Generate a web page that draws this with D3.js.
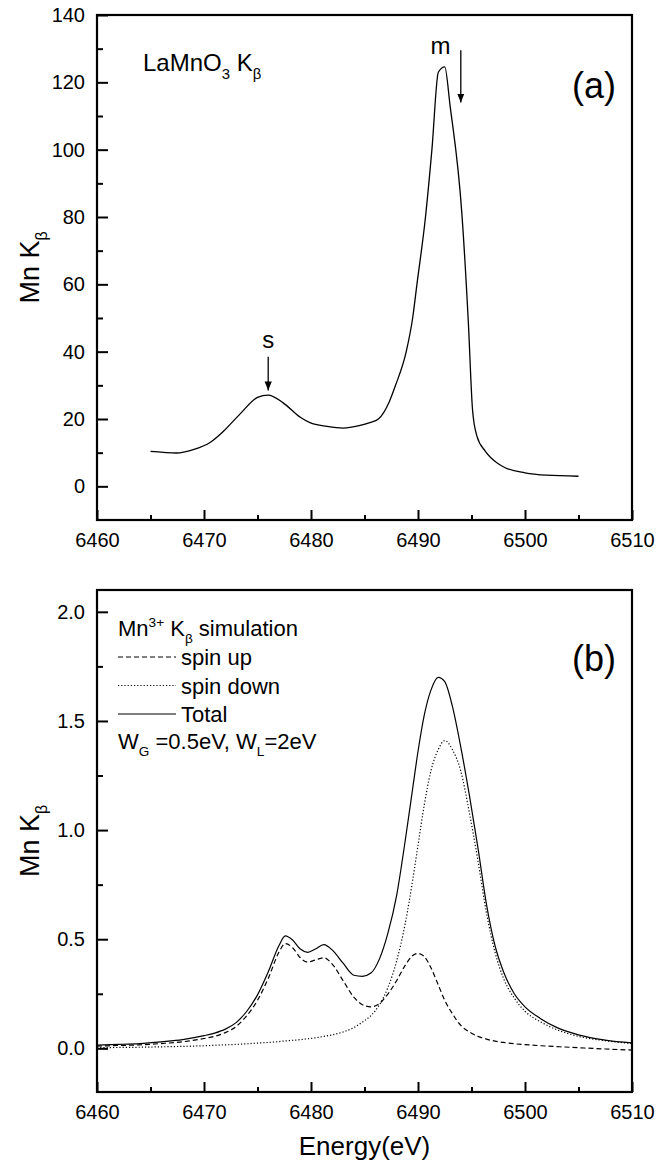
<!DOCTYPE html>
<html>
<head>
<meta charset="utf-8">
<script src="https://cdn.jsdelivr.net/npm/d3@7"></script>
<style>
  body { margin: 0; background: #fff; }
  svg { display: block; font-family: "Liberation Sans", Arial, sans-serif; }
</style>
</head>
<body>
<div id="chart"></div>
<script>
// ---- data ----
const energyTicks = [6460, 6470, 6480, 6490, 6500, 6510];
const energyMinor = [6465, 6475, 6485, 6495, 6505];
const yTicksA = [0, 20, 40, 60, 80, 100, 120, 140];
const yMinorA = [10, 30, 50, 70, 90, 110, 130];
const yTicksB = [0, 0.5, 1.0, 1.5, 2.0];
const yMinorB = [0.25, 0.75, 1.25, 1.75];

// (a) measured LaMnO3 K-beta
const energyA = [6465, 6466.2, 6467.4, 6469, 6470.6, 6471.8, 6473.4, 6475, 6476, 6477.4,
  6479, 6479.9, 6481.5, 6483, 6484.5, 6485.5, 6486.3, 6487.3, 6487.9, 6488.9,
  6489.5, 6489.9, 6490.7, 6491.3, 6491.9, 6492.5, 6493, 6494.1, 6494.7, 6495.1,
  6495.5, 6496.3, 6497.5, 6498.1, 6500, 6502, 6505];
const intensityA = [10.4, 10.1, 9.9, 10.9, 13.1, 16.3, 21.6, 26.4, 27.1, 24.8,
  20.5, 18.9, 17.8, 17.3, 18, 18.9, 20, 25, 30, 40,
  50, 60, 80, 100, 123, 124.6, 113, 81, 49, 22.6,
  15, 10.4, 6.7, 5.6, 4, 3.3, 3.0];

// (b) Mn3+ simulation
const energyB = [6460, 6462, 6464, 6466, 6468, 6470, 6471, 6472, 6473, 6474,
  6475, 6476, 6477, 6477.6, 6478.3, 6479, 6479.7, 6480.4, 6481.2, 6482,
  6483, 6484, 6484.8, 6485.6, 6486.4, 6487.2, 6488, 6488.8, 6489.5, 6490,
  6490.6, 6491.2, 6491.9, 6492.5, 6493.2, 6494, 6494.8, 6495.6, 6496.4, 6497.2,
  6498, 6499, 6500, 6501.5, 6503, 6505, 6507.5, 6510];
const spinUp = [0.010, 0.013, 0.016, 0.022, 0.030, 0.045, 0.055, 0.072, 0.10, 0.15,
  0.22, 0.32, 0.44, 0.48, 0.46, 0.415, 0.395, 0.405, 0.415, 0.385,
  0.31, 0.235, 0.20, 0.19, 0.205, 0.25, 0.31, 0.38, 0.425, 0.435,
  0.42, 0.37, 0.29, 0.22, 0.16, 0.105, 0.075, 0.055, 0.042, 0.033,
  0.027, 0.021, 0.017, 0.012, 0.008, 0.003, -0.003, -0.008];
const spinDown = [0.003, 0.004, 0.005, 0.007, 0.009, 0.012, 0.014, 0.016, 0.018, 0.021,
  0.024, 0.027, 0.031, 0.034, 0.037, 0.040, 0.044, 0.048, 0.055, 0.062,
  0.075, 0.095, 0.12, 0.15, 0.20, 0.28, 0.40, 0.57, 0.77, 0.93,
  1.12, 1.27, 1.37, 1.41, 1.37, 1.27, 1.08, 0.86, 0.62, 0.44,
  0.32, 0.23, 0.17, 0.12, 0.085, 0.055, 0.035, 0.022];
const total = [0.015, 0.018, 0.022, 0.03, 0.04, 0.058, 0.07, 0.088, 0.118, 0.17,
  0.245, 0.35, 0.47, 0.515, 0.495, 0.455, 0.44, 0.455, 0.475, 0.45,
  0.39, 0.335, 0.33, 0.345, 0.41, 0.53, 0.70, 0.95, 1.19, 1.36,
  1.53, 1.64, 1.70, 1.68, 1.57, 1.38, 1.16, 0.92, 0.66, 0.47,
  0.35, 0.25, 0.19, 0.135, 0.095, 0.062, 0.038, 0.025];

const legendRows = [
  { label: 'spin up', dash: '5,3' },
  { label: 'spin down', dash: '1.2,2' },
  { label: 'Total', dash: null }
];

const width = 672, height = 1165;
const left = 97, right = 632;

const svg = d3.select('#chart').append('svg')
  .attr('width', width)
  .attr('height', height);

// marker for the s / m arrows
svg.append('defs').append('marker')
  .attr('id', 'head')
  .attr('viewBox', '0 0 10 10')
  .attr('refX', 10).attr('refY', 5)
  .attr('markerWidth', 9).attr('markerHeight', 9)
  .attr('markerUnits', 'userSpaceOnUse')
  .attr('orient', 'auto')
  .append('path').attr('d', 'M0,1L10,5L0,9Z').attr('fill', '#000');

// text with sub/superscripts, parts = [{t, sub, sup}]
function richText(g, x, y, parts, size) {
  const t = g.append('text').attr('x', x).attr('y', y).style('font-size', size + 'px');
  let shift = 0;
  parts.forEach(p => {
    const s = p.sub ? 0.32 : p.sup ? -0.42 : 0;
    const ts = t.append('tspan').attr('dy', ((s - shift) * size) + 'px').text(p.t);
    if (p.sub || p.sup) ts.style('font-size', (size * 0.62) + 'px');
    shift = s;
  });
  return t;
}

function panel(top, bottom, yDomain, yTicks, yMinor, yFmt) {
  const x = d3.scaleLinear().domain([6460, 6510]).range([left, right]);
  const y = d3.scaleLinear().domain(yDomain).range([bottom, top]);
  const g = svg.append('g');

  g.append('g')
    .attr('transform', `translate(0,${bottom})`)
    .call(d3.axisBottom(x).tickValues(energyMinor).tickSize(-5).tickFormat(''));
  g.append('g')
    .attr('transform', `translate(0,${bottom})`)
    .call(d3.axisBottom(x).tickValues(energyTicks).tickSize(-10).tickPadding(13).tickFormat(d3.format('d')));
  g.append('g')
    .attr('transform', `translate(${left},0)`)
    .call(d3.axisLeft(y).tickValues(yMinor).tickSize(-6).tickFormat(''));
  g.append('g')
    .attr('transform', `translate(${left},0)`)
    .call(d3.axisLeft(y).tickValues(yTicks).tickSize(-11).tickPadding(12).tickFormat(yFmt));

  g.selectAll('.domain').remove();
  g.selectAll('.tick line').attr('stroke', '#000').attr('stroke-width', 2);
  g.selectAll('.tick text').attr('fill', '#000').style('font-size', '20px')
    .style('font-family', '"Liberation Sans", Arial, sans-serif');

  g.append('rect')
    .attr('x', left).attr('y', top)
    .attr('width', right - left).attr('height', bottom - top)
    .attr('fill', 'none').attr('stroke', '#000').attr('stroke-width', 2.2);

  // y axis title
  const yt = g.append('text')
    .attr('transform', `translate(39,${(top + bottom) / 2}) rotate(-90)`)
    .attr('text-anchor', 'middle')
    .style('font-size', '27px');
  yt.append('tspan').text('Mn K');
  yt.append('tspan').attr('dy', '8px').style('font-size', '16px').text('β');

  return { g, x, y };
}

// ---------- panel (a) ----------
const pa = panel(15, 520, [-10, 140], yTicksA, yMinorA, d3.format('d'));

pa.g.append('path')
  .datum(energyA.map((e, i) => [e, intensityA[i]]))
  .attr('d', d3.line().x(d => pa.x(d[0])).y(d => pa.y(d[1])).curve(d3.curveMonotoneX))
  .attr('fill', 'none').attr('stroke', '#000').attr('stroke-width', 1.3);

richText(pa.g, 143, 71, [{ t: 'LaMnO' }, { t: '3', sub: true }, { t: ' K' }, { t: 'β', sub: true }], 24);

pa.g.append('text').attr('x', 594).attr('y', 98).attr('text-anchor', 'middle')
  .style('font-size', '36px').text('(a)');

const arrows = [
  { label: 's', e: 6476, from: 38.5, to: 28.5, le: 6476, lv: 41 },
  { label: 'm', e: 6494, from: 129.5, to: 114, le: 6492.1, lv: 128.5 }
];
arrows.forEach(a => {
  pa.g.append('line')
    .attr('x1', pa.x(a.e)).attr('x2', pa.x(a.e))
    .attr('y1', pa.y(a.from)).attr('y2', pa.y(a.to))
    .attr('stroke', '#000').attr('stroke-width', 1.3)
    .attr('marker-end', 'url(#head)');
  pa.g.append('text')
    .attr('x', pa.x(a.le)).attr('y', pa.y(a.lv))
    .attr('text-anchor', 'middle')
    .style('font-size', '24px').text(a.label);
});

// ---------- panel (b) ----------
const pb = panel(590, 1092, [-0.2, 2.1], yTicksB, yMinorB, d3.format('.1f'));

const lineB = d3.line().x(d => pb.x(d[0])).y(d => pb.y(d[1])).curve(d3.curveMonotoneX);
[[spinUp, '5,3'], [spinDown, '1.2,2'], [total, null]].forEach(([vals, dash]) => {
  pb.g.append('path')
    .datum(energyB.map((e, i) => [e, vals[i]]))
    .attr('d', lineB)
    .attr('fill', 'none').attr('stroke', '#000').attr('stroke-width', 1.2)
    .attr('stroke-dasharray', dash);
});

richText(pb.g, 118, 636, [{ t: 'Mn' }, { t: '3+', sup: true }, { t: ' K' }, { t: 'β', sub: true }, { t: ' simulation' }], 22);

legendRows.forEach((r, i) => {
  const cy = 657 + i * 28.5;
  pb.g.append('line')
    .attr('x1', 118).attr('x2', 176).attr('y1', cy).attr('y2', cy)
    .attr('stroke', '#000').attr('stroke-width', 1.2)
    .attr('stroke-dasharray', r.dash);
  pb.g.append('text').attr('x', 181).attr('y', cy + 8)
    .style('font-size', '22px').text(r.label);
});

richText(pb.g, 118, 749, [{ t: 'W' }, { t: 'G', sub: true }, { t: ' =0.5eV, W' }, { t: 'L', sub: true }, { t: '=2eV' }], 22);

pb.g.append('text').attr('x', 594).attr('y', 671).attr('text-anchor', 'middle')
  .style('font-size', '36px').text('(b)');

svg.append('text')
  .attr('x', (left + right) / 2).attr('y', 1155)
  .attr('text-anchor', 'middle')
  .style('font-size', '26px')
  .text('Energy(eV)');
</script>
</body>
</html>
